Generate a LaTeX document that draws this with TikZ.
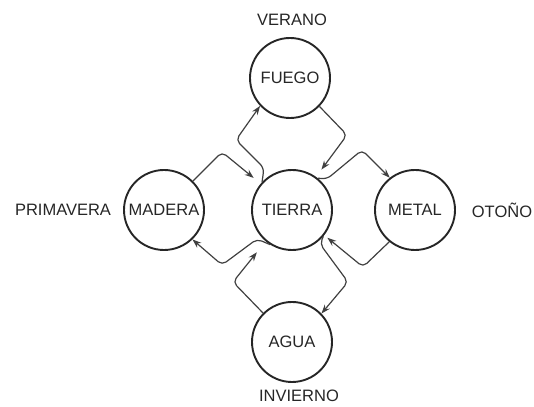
\documentclass[tikz,border=0pt]{standalone}
\usepackage{fontspec}
\setmainfont{Liberation Sans}
\usetikzlibrary{arrows.meta}

\begin{document}
\begin{tikzpicture}[x=1pt,y=1pt,font=\fontsize{16.5}{19}\selectfont]
	\tikzstyle{element}=[circle,draw=black!85,line width=1.9pt,minimum size=80pt,inner sep=0pt,text=black!85]
	\tikzstyle{season}=[text=black!85]
	\tikzstyle{flow}=[draw=black!75,line width=1.2pt,rounded corners=5pt,-{Stealth[length=9pt,width=6.5pt]}]
	\useasboundingbox (0,0) rectangle (534,406);
	\node[element] (fuego) at (290,328) {FUEGO};
	\node[element] (madera) at (164,196) {MADERA};
	\node[element] (tierra) at (292,196) {TIERRA};
	\node[element] (metal) at (415,196) {METAL};
	\node[element] (agua) at (292,64) {AGUA};
	\node[season] (verano) at (292,386) {VERANO};
	\node[season] (primavera) at (63,196) {PRIMAVERA};
	\node[season] (otono) at (502,196) {OTOÑO};
	\node[season] (invierno) at (299,10) {INVIERNO};
	\draw[flow,shorten >=9pt] (madera.45) -- (222,254) -- (tierra.140);
	\draw[flow] (tierra.137) -- (264,238) -- (236,266) -- (fuego.223);
	\draw[flow,shorten >=9pt] (fuego.316) -- (347,271) -- (tierra.54);
	\draw[flow] (tierra.51) -- (327,227) -- (362,256) -- (metal.128);
	\draw[flow,shorten >=4pt] (metal.231) -- (363,139) -- (tierra.322);
	\draw[flow] (tierra.320) -- (320,162) -- (348,124) -- (agua.44);
	\draw[flow,shorten >=14pt] (agua.135) -- (233,124) -- (tierra.230);
	\draw[flow] (tierra.238) -- (257,167) -- (222,141) -- (madera.314);
\end{tikzpicture}
\end{document}
